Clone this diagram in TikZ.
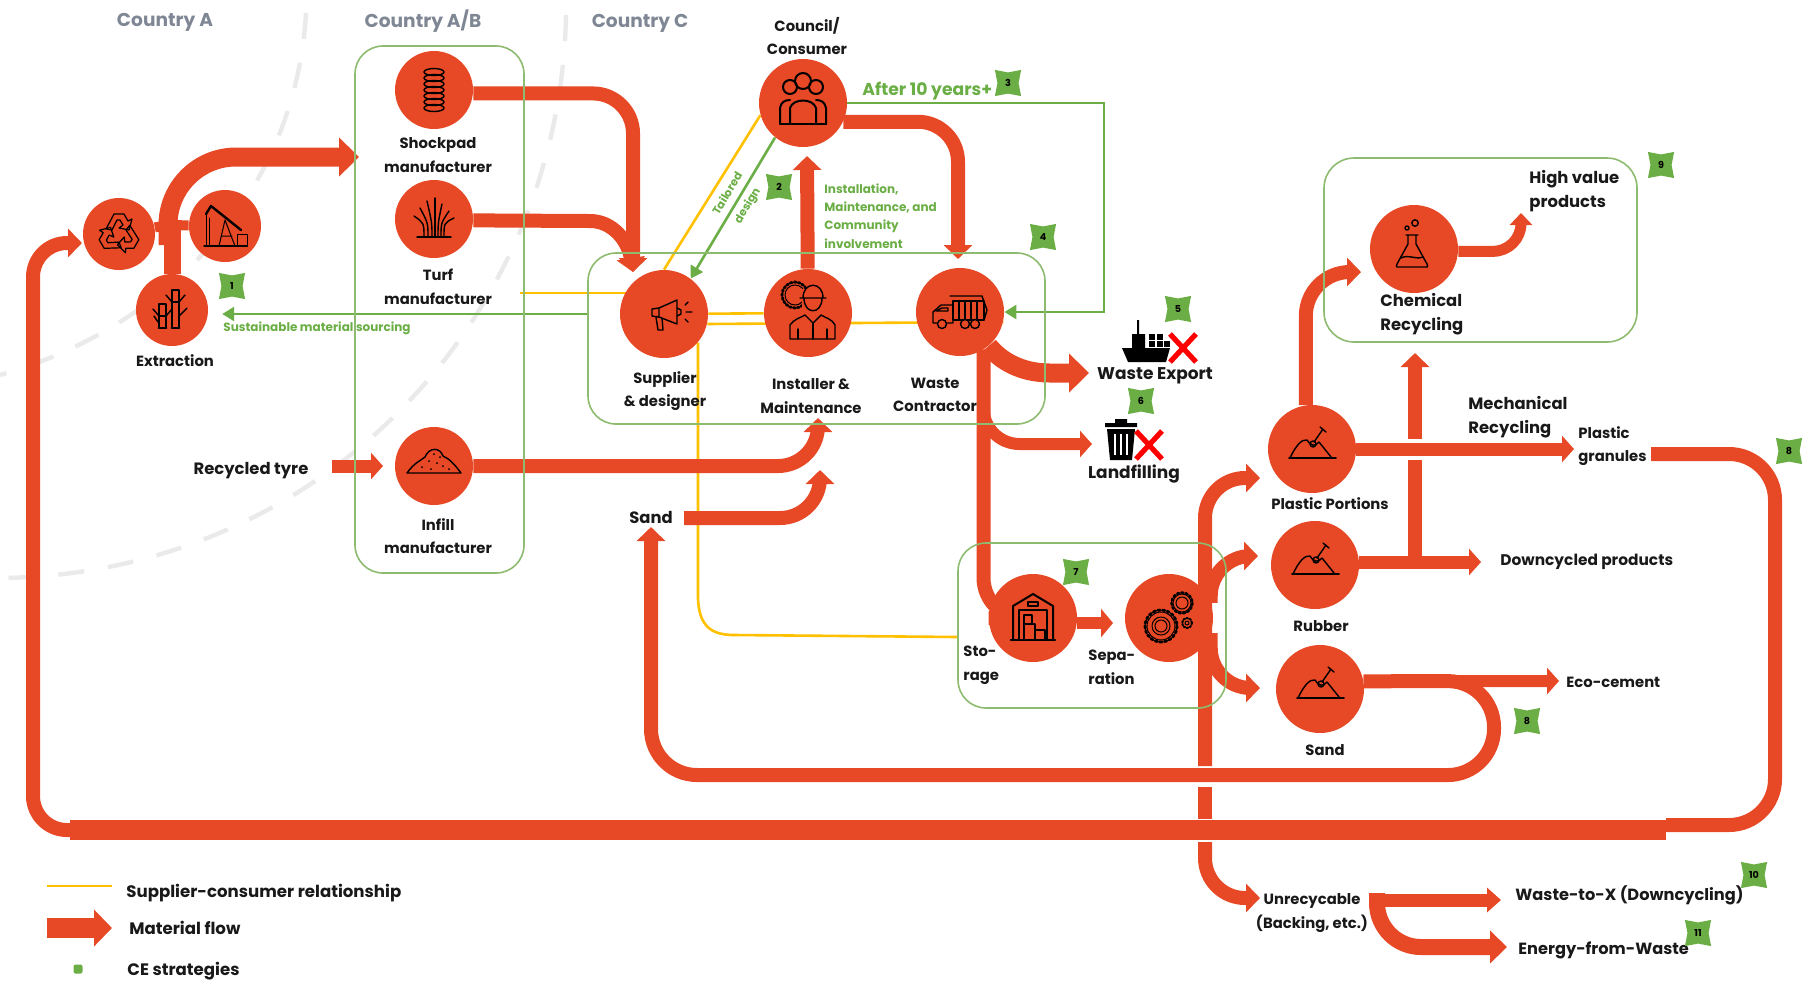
\documentclass[tikz,border=0pt]{standalone}
\usepackage{fontspec}
\setmainfont{Poppins}
\usetikzlibrary{arrows.meta,shapes.geometric}
\definecolor{flowred}{HTML}{E74825}
\definecolor{cegreen}{HTML}{6AAE45}
\definecolor{boxgreen}{HTML}{8DBB6F}
\definecolor{supplyyellow}{HTML}{FFC000}
\definecolor{dashgrey}{HTML}{EAEAEA}
\definecolor{titlegrey}{HTML}{7F8794}
\pgfdeclarelayer{back}
\pgfsetlayers{back,main}
\tikzstyle{hub} = [circle, fill=flowred, inner sep=0pt, minimum size=44pt]
\tikzstyle{hubmid} = [hub, minimum size=39pt]
\tikzstyle{hubsmall} = [hub, minimum size=36pt]
\tikzstyle{grpbox} = [draw=boxgreen, line width=0.8pt, rectangle, rounded corners=14pt, inner sep=0pt]
\tikzstyle{matflow} = [draw=flowred, line width=7pt, -{Triangle[length=7pt,width=14pt]}]
\tikzstyle{smallflow} = [draw=flowred, line width=5.5pt, -{Triangle[length=6pt,width=11pt]}]
\tikzstyle{midflow} = [draw=flowred, line width=6.5pt, -{Triangle[length=6pt,width=13pt]}]
\tikzstyle{bigflow} = [draw=flowred, line width=9.5pt, -{Triangle[length=10pt,width=19pt]}]
\tikzstyle{plainflow} = [draw=flowred, line width=7pt]
\tikzstyle{wideflow} = [draw=flowred, line width=10pt]
\tikzstyle{greenflow} = [draw=cegreen, line width=1.3pt, -{Triangle[length=6pt,width=7pt]}]
\tikzstyle{supply} = [draw=supplyyellow, line width=1.3pt]
\tikzstyle{borderdash} = [draw=dashgrey, line width=2.2pt, dash pattern=on 13pt off 12pt]
\tikzstyle{lbl} = [font=\bfseries\fontsize{7.4}{11.8}\selectfont, align=center, inner sep=0pt, text=black!90]
\tikzstyle{lblleft} = [lbl, align=left, anchor=west]
\tikzstyle{lblbig} = [font=\bfseries\fontsize{8.2}{12}\selectfont]
\tikzstyle{lblhuge} = [font=\bfseries\fontsize{8.5}{12}\selectfont]
\tikzstyle{countrytitle} = [font=\bfseries\fontsize{9.3}{10}\selectfont, text=titlegrey, inner sep=0pt]
\tikzstyle{greentext} = [font=\bfseries\fontsize{6}{9.2}\selectfont, text=cegreen, align=left, inner sep=0pt]
\tikzstyle{badge} = [star, star points=4, star point ratio=1.75, shape border rotate=45, fill=cegreen, inner sep=0pt, minimum size=18.5pt, font=\bfseries\fontsize{4.8}{5}\selectfont]
\tikzstyle{icon} = [draw=black, line width=0.7pt, line cap=round, line join=round]
\tikzset{
  coil/.pic={\foreach \v in {-18,-12,...,18} \draw[icon] (0,\v) ellipse (10 and 3.5);},
  grass/.pic={
    \draw[icon] (-17,18) -- (17,18);
    \foreach \xa/\xb/\yb in {-10/-20/-3,-6/-14/-11,-2/-7/-18,1/1/-21,4/8/-15,7/15/-8,10/20/-1}
      \draw[icon] (\xa,18) .. controls (\xa,4) .. (\xb,\yb);},
  pile/.pic={
    \draw[icon] (-27,14) .. controls (-20,4) and (-14,2) .. (-9,-2) .. controls (-5,-12) and (6,-12) .. (9,-3) .. controls (16,0) and (21,6) .. (27,14) -- cycle;
    \foreach \xa/\ya in {-12/8,-5/2,0/-5,3/4,9/7,15/10,-3/10,6/-2} \fill (\xa,\ya) circle (1);},
  digger/.pic={
    \draw[icon, line width=0.9pt] (-23,9) -- (24,9);
    \draw[icon] (-22,9) .. controls (-16,-4) and (-10,-10) .. (-5,-9) .. controls (-1,-3) and (3,-2) .. (7,-7) -- (19,8);
    \draw[icon] (1,-5) circle (3);
    \draw[icon] (2,-7) -- (11,-20) (8,-22) -- (14,-17);},
  crowd/.pic={
    \draw[icon, line width=1pt] (0,-19) circle (8) (-13,-13) circle (7) (13,-13) circle (7);
    \draw[icon, line width=1pt] (-13,24) -- (-13,8) .. controls (-10,-2) and (10,-2) .. (13,8) -- (13,24);
    \draw[icon, line width=1pt] (-23,24) -- (-23,8) .. controls (-22,2) and (-18,0) .. (-13,0) (23,24) -- (23,8) .. controls (22,2) and (18,0) .. (13,0);
    \draw[icon, line width=1pt] (-23,24) -- (23,24);},
  horn/.pic={
    \draw[icon] (-13,-6) -- (5,-14) -- (5,10) -- (-13,3) -- cycle;
    \draw[icon] (-13,-6) -- (-20,-5) -- (-20,2) -- (-13,3);
    \draw[icon] (-16,3) -- (-14,16) -- (-9,16) -- (-10,4);
    \draw[icon] (5,-6) -- (9,-4) -- (9,0) -- (5,2);
    \draw[icon] (13,-9) -- (16,-12) (14,-2) -- (20,-2) (13,5) -- (16,8);},
  worker/.pic={
    \draw[icon, dash pattern=on 1pt off 1pt, line width=1.4pt] (-13,-18) circle (13);
    \draw[icon, line width=0.5pt] (-13,-18) circle (10);
    \fill[flowred] (-6,-24) rectangle (16,-4);
    \draw[icon] (-8,-15) -- (18,-15) (-5,-15) .. controls (-5,-32) and (15,-32) .. (15,-15);
    \draw[icon] (-4,-15) .. controls (-4,2) and (14,2) .. (14,-15);
    \draw[icon] (-18,26) -- (-18,12) .. controls (-14,6) and (-8,5) .. (-3,2) -- (5,10) -- (13,2) .. controls (18,5) and (24,6) .. (27,12) -- (27,26) -- cycle;
    \draw[icon] (5,10) -- (5,26) (-10,16) -- (-10,26) (19,16) -- (19,26);},
  truck/.pic={
    \draw[icon] (-7,-11) rectangle (24,8);
    \foreach \xa in {-1,5,11,17} \draw[icon] (\xa,-11) -- (\xa,8);
    \draw[icon] (-10,-16) -- (22,-16) -- (27,-2) -- (24,8);
    \draw[icon] (-27,11) -- (-27,0) -- (-19,-7) -- (-7,-7) -- (-7,11) -- cycle;
    \draw[icon] (-24,-1) -- (-18,-4) -- (-12,-4) -- (-12,-1) -- cycle;
    \fill[flowred] (-18,12) circle (5) (5,12) circle (5) (15,12) circle (5);
    \draw[icon] (-18,12) circle (4.5) (5,12) circle (4.5) (15,12) circle (4.5);},
  flask/.pic={
    \draw[icon] (-6,-14) -- (6,-14) (-4,-14) -- (-4,-5) -- (-15,15) .. controls (-16,18) .. (-13,18) -- (13,18) .. controls (16,18) .. (15,15) -- (4,-5) -- (4,-14);
    \draw[icon] (-11,9) .. controls (-4,5) and (4,11) .. (11,8);
    \draw[icon] (-5,-21) circle (2) (3,-26) circle (3.2);},
  depot/.pic={
    \draw[icon, line width=1pt] (-20,24) -- (-20,-10) -- (0,-22) -- (20,-10) -- (20,24);
    \draw[icon] (-14,24) -- (-14,-6) -- (14,-6) -- (14,24);
    \draw[icon] (-5,-14) rectangle (5,-10);
    \draw[icon] (-9,8) rectangle (2,24) (2,14) rectangle (12,24) (-9,-1) rectangle (-1,8);
    \draw[icon, line width=1.4pt] (-22,24) -- (22,24);},
  cogs/.pic={
    \draw[icon, dash pattern=on 1.2pt off 1.2pt, line width=1.4pt] (-8,8) circle (16);
    \draw[icon, line width=0.5pt] (-8,8) circle (14) (-8,8) circle (9) (-8,8) circle (6);
    \draw[icon, dash pattern=on 1.1pt off 1.1pt, line width=1.2pt] (13,-15) circle (10.5);
    \draw[icon, line width=0.5pt] (13,-15) circle (9) (13,-15) circle (6);
    \draw[icon, dash pattern=on 0.8pt off 0.8pt, line width=1pt] (18,5) circle (5);
    \draw[icon, line width=0.5pt] (18,5) circle (2);},
  cane/.pic={
    \foreach \xa/\ya in {3/-20,-10/-6} {
      \draw[icon, line width=0.9pt] (\xa-3,\ya) rectangle (\xa+4,18);
      \draw[icon, line width=1.4pt] (\xa-3,\ya+12) -- (\xa+4,\ya+12) (\xa-3,18) -- (\xa+4,18);
      \draw[icon] (\xa-3,\ya+12) -- (\xa-9,\ya+5) (\xa+4,\ya+12) -- (\xa+10,\ya+5);}
    \draw[icon] (7,6) -- (15,-2) (-14,12) -- (-18,6);},
  jack/.pic={
    \draw[icon] (-21,20) -- (22,20);
    \draw[icon, line width=1.2pt] (-19,-12) -- (-14,-20) -- (16,4);
    \draw[icon, line width=0.5pt] (-19,-12) -- (-19,20) (-16,-8) -- (-16,20);
    \draw[icon, line width=0.5pt] (-6,20) -- (0,-6) -- (10,20) (-4,10) -- (7,10);
    \draw[icon, line width=0.5pt] (12,8) rectangle (22,20);},
  recycl/.pic={
    \foreach \a in {0,120,240}
      \draw[icon, rotate=\a, line width=0.6pt] (-13,-5) -- (-5,-20) -- (5,-20) -- (9,-13) -- (13,-15) -- (10,-4) -- (0,-6) -- (4,-9) -- (1,-14) -- (-2,-14) -- (-7,-4) -- cycle;},
  ship/.pic={
    \fill (-26,6) -- (22,6) -- (18,20) -- (-20,20) -- cycle;
    \fill (-16,-8) rectangle (-3,6) (-11,-22) rectangle (-9,-8);
    \foreach \xa/\ya in {1/-8,9/-8,1/-1,9/-1,16/-1} \fill (\xa,\ya) rectangle ++(6,5.5);},
  trashbin/.pic={
    \fill (-16,-17) rectangle (16,-13) (-6,-21) rectangle (6,-17);
    \fill (-14,-11) -- (14,-11) -- (11,20) -- (-11,20) -- cycle;
    \foreach \xa in {-6,0,6} \draw[white, line width=0.8pt] (\xa,-6) -- (\xa,15);},
  redcross/.pic={\draw[draw=red, line width=2.6pt] (-13,-14) -- (13,14) (-13,14) -- (13,-14);}
}
\begin{document}
\begin{tikzpicture}[x=0.5pt,y=-0.5pt]
\useasboundingbox (0,0) rectangle (1807,982);

\node [grpbox, minimum width=84.5pt, minimum height=263.5pt] (abblock) at (439.5,309.5) {};
\node [grpbox, minimum width=228.5pt, minimum height=85.5pt] (useblock) at (816.5,338.5) {};
\node [grpbox, minimum width=156.5pt, minimum height=92pt, rounded corners=15pt] (chemblock) at (1480.5,250) {};
\node [grpbox, minimum width=134pt, minimum height=82.5pt] (storeblock) at (1092,625.5) {};

\node [hubsmall] (recycle) at (119,234) {};
\node [hubsmall] (pump) at (225,226) {};
\node [hubsmall] (extraction) at (172,310) {};
\node [hubmid] (shockpad) at (434,90) {};
\node [hubmid] (turf) at (434,219) {};
\node [hubmid] (infill) at (434,466) {};
\node [hub] (council) at (803,103) {};
\node [hub] (supplier) at (664,314) {};
\node [hub] (installer) at (808,313) {};
\node [hub] (contractor) at (960,312) {};
\node [hub] (chemical) at (1414,249) {};
\node [hub] (plastic) at (1312,449) {};
\node [hub] (rubber) at (1315,565) {};
\node [hub] (sandhub) at (1320,689) {};
\node [hub] (storage) at (1033,618) {};
\node [hub] (separation) at (1169,618) {};

\coordinate (abtip) at (359,157);
\coordinate (joint) at (168,245);
\coordinate (shocktip) at (633,272);
\coordinate (installtip) at (807,156);
\coordinate (wastetip) at (958,259);
\coordinate (exporttip) at (1089,373);
\coordinate (landtip) at (1092,444);
\coordinate (septip) at (1113,623);
\coordinate (trunktop) at (1205,766);
\coordinate (trunkmidA) at (1205,787);
\coordinate (trunkmidB) at (1205,819);
\coordinate (trunkend) at (1205,842);
\coordinate (plastictip) at (1260,478);
\coordinate (rubbertip) at (1258,556);
\coordinate (sandtip) at (1260,688);
\coordinate (unrectip) at (1260,898);
\coordinate (sandelbow) at (1494,681);
\coordinate (sandbend) at (1494,775);
\coordinate (sandcorner) at (651,775);
\coordinate (sandlefttip) at (651,527);
\coordinate (ecotip) at (1559,681);
\coordinate (grantip) at (1574,449);
\coordinate (chemtip) at (1361,272);
\coordinate (hightip) at (1521,213);
\coordinate (downtip) at (1481,562);
\coordinate (vjoin) at (1415,562);
\coordinate (vgapA) at (1415,460);
\coordinate (vgapB) at (1415,439);
\coordinate (vuptip) at (1415,353);
\coordinate (granstart) at (1651,454);
\coordinate (loopcorner) at (1775,825);
\coordinate (loopjoin) at (1666,825);
\coordinate (widestart) at (1666,830);
\coordinate (wideend) at (70,830);
\coordinate (leftcorner) at (33,243);
\coordinate (recycletip) at (82,243);
\coordinate (tyrestart) at (332,466);
\coordinate (tyretip) at (383,466);
\coordinate (infilltip) at (818,418);
\coordinate (sandstart) at (684,518);
\coordinate (sanduptip) at (820,470);
\coordinate (wastetoxstart) at (1369,900);
\coordinate (energystart) at (1377,893);
\coordinate (wastetoxtip) at (1501,900);
\coordinate (energytip) at (1507,947);
\coordinate (turflink) at (520,293);
\coordinate (storelink) at (958,637);
\coordinate (greencorner) at (1104,312);
\coordinate (legyellowa) at (47,886);
\coordinate (legyellowb) at (112,886);
\coordinate (legflowa) at (47,928);
\coordinate (legflowb) at (112,928);

\begin{pgfonlayer}{back}
\draw[borderdash] (306,13) .. controls (295,200) and (160,330) .. (0,375);
\draw[borderdash] (566,15) .. controls (560,320) and (320,575) .. (0,578);

\draw[supply] (turflink) -- (turflink -| supplier.center);
\draw[supply] (supplier) -- (installer);
\draw[supply] (supplier.-13) -- (contractor.-13);
\draw[supply] (supplier.90) -- (council.196);
\draw[supply] (supplier.-40) -- ++(0,250) .. controls (697,630) and (715,635) .. (735,635) -- (storelink);
\draw[supply] (legyellowa) -- (legyellowb);

\draw[greenflow] (council.231) -- (supplier.53);
\draw[greenflow] (council.east) -| (greencorner) -- (contractor.east);
\draw[greenflow] (supplier -| useblock.west) -- ++(-365,0);

\draw[plainflow, line width=5pt] (recycle) -- (joint |- 0,225);
\draw[plainflow, line width=5pt] (pump) -- (joint |- 0,225);
\draw[plainflow, line width=8.5pt] (extraction) -- (172,225);
\draw[bigflow, rounded corners=34pt] (joint) |- (abtip);

\draw[matflow, rounded corners=20pt] (shockpad.-5) -| (shocktip);
\draw[matflow] (turf.-2) -- (590,221) .. controls (612,221) and (628,240) .. (shocktip);
\draw[matflow] (installer) -- (installtip);
\draw[matflow, rounded corners=20pt] (council.-25) -| (wastetip);
\draw[bigflow] (contractor.-50) .. controls (1000,360) and (1020,373) .. (1050,373) -- (exporttip);
\draw[matflow, line width=6pt, -{Triangle[length=6pt,width=13pt]}, rounded corners=18pt] (contractor.-58) |- (landtip);
\draw[plainflow, rounded corners=20pt] (contractor.-58) |- (storage);
\draw[matflow, line width=6pt, -{Triangle[length=6pt,width=14pt]}] (storage.east |- septip) -- (septip);

\draw[matflow, rounded corners=20pt] (trunktop) |- (plastictip);
\draw[plainflow] (trunkmidA) -- (trunkmidB);
\draw[matflow, rounded corners=20pt] (trunkend) |- (unrectip);
\draw[matflow, rounded corners=20pt] (separation.20) |- (rubbertip);
\draw[matflow, rounded corners=20pt] (separation.-20) |- (sandtip);

\draw[matflow, rounded corners=23pt] (sandhub.10) -- (sandelbow) -- (sandbend) -- (sandcorner) -- (sandlefttip);
\draw[midflow, line width=6pt] (sandhub.10) -- (ecotip);
\draw[midflow] (plastic.east) -- (grantip);
\draw[matflow, rounded corners=22pt] (plastic.98) |- (chemtip);
\draw[smallflow, rounded corners=14pt] (chemical.-3) -| (hightip);
\draw[midflow] (rubber.east |- downtip) -- (downtip);
\draw[plainflow] (vjoin) -- (vgapA);
\draw[matflow] (vgapB) -- (vuptip);

\draw[plainflow, rounded corners=23pt] (granstart) -| (loopcorner) -- (loopjoin);
\draw[wideflow] (widestart) -- (wideend);
\draw[matflow, rounded corners=17pt] (wideend) -| (leftcorner) -- (recycletip);

\draw[midflow] (tyrestart) -- (tyretip);
\draw[matflow, rounded corners=20pt] (infill.east) -| (infilltip);
\draw[matflow, rounded corners=20pt] (sandstart) -| (sanduptip);

\draw[midflow, -{Triangle[length=7pt,width=12pt]}] (wastetoxstart) -- (wastetoxtip);
\draw[matflow, line width=8pt, -{Triangle[length=8.5pt,width=16pt]}, rounded corners=22pt] (energystart) |- (energytip);
\draw[wideflow, -{Triangle[length=9pt,width=18pt]}] (legflowa) -- (legflowb);
\end{pgfonlayer}

\pic at (recycle) {recycl};
\pic at (pump) {jack};
\pic at (extraction) {cane};
\pic at (shockpad) {coil};
\pic at (turf) {grass};
\pic at ([yshift=3.5pt]infill) {pile};
\pic at ([yshift=1.5pt]council) {crowd};
\pic at ([xshift=4pt]supplier) {horn};
\pic at (installer) {worker};
\pic at (contractor) {truck};
\pic at ([xshift=-1pt]chemical) {flask};
\pic at (plastic) {digger};
\pic at (rubber) {digger};
\pic at (sandhub) {digger};
\pic at ([yshift=1pt]storage) {depot};
\pic at (separation) {cogs};
\pic at (1148,342) {ship};
\pic at (1121,440) {trashbin};
\pic at (1183,348) {redcross};
\pic at (1149,445) {redcross};

\node [countrytitle] (titlea) at (165,22) {Country A};
\node [countrytitle] (titleab) at (423,21) {Country A/B};
\node [countrytitle] (titlec) at (640,23) {Country C};

\node [lbl] (extractionlbl) at (175,361) {Extraction};
\node [lbl] (shockpadlbl) at (438,155) {Shockpad\\manufacturer};
\node [lbl] (turflbl) at (438,287) {Turf\\manufacturer};
\node [lbl] (infilllbl) at (438,536) {Infill\\manufacturer};
\node [lbl, lblbig] (tyrelbl) at (251,471) {Recycled tyre};
\node [lbl, lblbig] (sandlbl) at (651,517) {Sand};
\node [lbl] (councillbl) at (807,36) {Council/\\Consumer};
\node [lbl] (supplierlbl) at (665,391) {Supplier\\\& designer};
\node [lbl] (installerlbl) at (811,396) {Installer \&\\Maintenance};
\node [lbl] (contractorlbl) at (935,395) {Waste\\Contractor};
\node [lbl, lblhuge] (exportlbl) at (1155,376) {Waste Export};
\node [lbl, lblhuge] (landlbl) at (1134,474) {Landfilling};
\node [lblleft, lblbig] (chemlbl) at (1380,314) {Chemical\\Recycling};
\node [lblleft, lblbig] (highlbl) at (1529,191) {High value\\products};
\node [lblleft, lblbig] (mechlbl) at (1468,417) {Mechanical\\Recycling};
\node [lblleft] (granlbl) at (1578,446) {Plastic\\granules};
\node [lbl] (plasticlbl) at (1330,504) {Plastic Portions};
\node [lbl] (rubberlbl) at (1321,626) {Rubber};
\node [lbl] (sandhublbl) at (1325,750) {Sand};
\node [lblleft, font=\bfseries\fontsize{7.7}{11}\selectfont] (downlbl) at (1500,562) {Downcycled products};
\node [lblleft] (ecolbl) at (1566,682) {Eco-cement};
\node [lblleft] (storagelbl) at (963,665) {Sto-\\rage};
\node [lblleft] (separationlbl) at (1088,667) {Sepa-\\ration};
\node [lbl] (unreclbl) at (1312,913) {Unrecycable\\(Backing, etc.)};
\node [lblleft, font=\bfseries\fontsize{8.1}{11}\selectfont] (wastexlbl) at (1515,895) {Waste-to-X (Downcycling)};
\node [lblleft, font=\bfseries\fontsize{8.1}{11}\selectfont] (energylbl) at (1518,950) {Energy-from-Waste};

\node [greentext, anchor=west, font=\bfseries\fontsize{8.6}{10}\selectfont] (afterlbl) at (862,91) {After 10 years+};
\node [greentext, anchor=west] (sourcelbl) at (223,328) {Sustainable material sourcing};
\node [greentext, anchor=west] (involvelbl) at (824,216) {Installation,\\Maintenance, and\\Community\\involvement};
\node [greentext, align=center, font=\bfseries\fontsize{5.6}{11.5}\selectfont, rotate=59] (tailorlbl) at (738,200) {Tailored\\design};

\node [badge] (ceone) at (232,286) {1};
\node [badge] (cetwo) at (779,187) {2};
\node [badge] (cethree) at (1008,83) {3};
\node [badge] (cefour) at (1043,237) {4};
\node [badge] (cefive) at (1178,309) {5};
\node [badge] (cesix) at (1141,401) {6};
\node [badge] (ceseven) at (1076,572) {7};
\node [badge] (ceeighta) at (1527,721) {8};
\node [badge] (ceeightb) at (1789,451) {8};
\node [badge] (cenine) at (1661,165) {9};
\node [badge] (ceten) at (1754,875) {10};
\node [badge] (ceeleven) at (1698,933) {11};

\node [lblleft, font=\bfseries\fontsize{8.3}{11}\selectfont] (legsupply) at (126,893) {Supplier-consumer relationship};
\node [lblleft, font=\bfseries\fontsize{8.3}{11}\selectfont] (legflow) at (129,928) {Material flow};
\node [lblleft, font=\bfseries\fontsize{8.3}{11}\selectfont] (legce) at (127,971) {CE strategies};
\node [fill=cegreen, rounded corners=1pt, inner sep=0pt, minimum size=4.5pt] (legdot) at (78,969) {};
\end{tikzpicture}
\end{document}
